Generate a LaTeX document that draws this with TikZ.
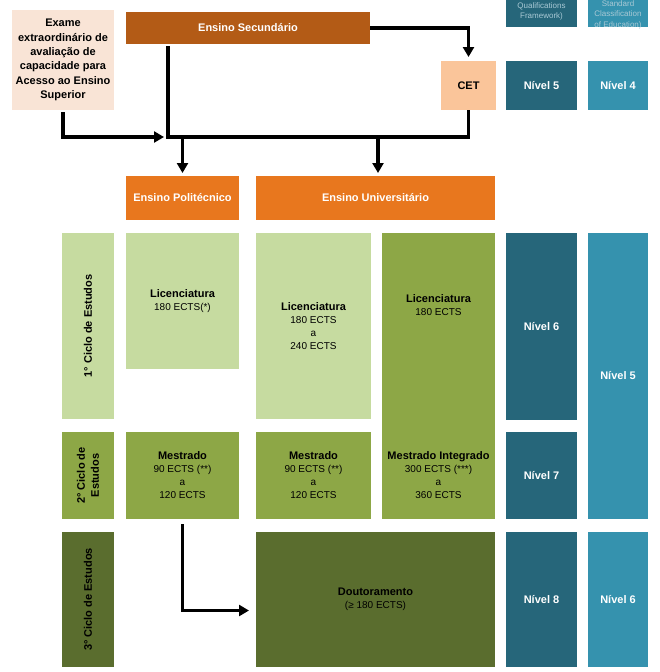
\documentclass[tikz,border=0pt]{standalone}
\usepackage{fontspec}
\setmainfont{Liberation Sans}
\usetikzlibrary{arrows.meta}
\definecolor{secbrown}{HTML}{B35B16}
\definecolor{ensorange}{HTML}{E8771E}
\definecolor{cetpeach}{HTML}{FAC59A}
\definecolor{exapeach}{HTML}{F9E4D6}
\definecolor{lgreen}{HTML}{C6DBA0}
\definecolor{mgreen}{HTML}{8DA746}
\definecolor{dgreen}{HTML}{5A6D2E}
\definecolor{dteal}{HTML}{26667A}
\definecolor{lteal}{HTML}{3592AE}
\definecolor{qtext}{HTML}{A9C9D5}
\newcommand\boxhead[1]{{\fontsize{11}{13}\selectfont\bfseries #1}}

\begin{document}
\begin{tikzpicture}[x=1pt, y=-1pt,
  box/.style={rectangle, inner sep=0pt, outer sep=0pt, align=center, font=\fontsize{10}{13}\selectfont},
  nivel/.style={box, text=white, font=\bfseries\fontsize{11}{13}\selectfont},
  ciclo/.style={rotate=90, align=center, inner sep=0pt, font=\bfseries\fontsize{11}{14}\selectfont},
  link/.style={line width=3.5pt, line join=miter},
  arr/.style={link, -{Triangle[length=10pt,width=11pt]}}]
\useasboundingbox (0,0) rectangle (659,672);
% access
\node[box, fill=exapeach, minimum width=102, minimum height=100, font=\bfseries\fontsize{11}{14.4}\selectfont] (exame) at (63,60) {Exame\\extraordinário de\\avaliação de\\capacidade para\\Acesso ao Ensino\\Superior};
\node[box, fill=secbrown, text=white, minimum width=244, minimum height=32] (sec) at (248,28) {\boxhead{Ensino Secundário}};
\node[box, fill=cetpeach, minimum width=55, minimum height=49] (cet) at (468.5,85.5) {\boxhead{CET}};
\node[box, fill=ensorange, text=white, minimum width=113, minimum height=44] (poli) at (182.5,198) {\boxhead{Ensino Politécnico}};
\node[box, fill=ensorange, text=white, minimum width=239, minimum height=44] (univ) at (375.5,198) {\boxhead{Ensino Universitário}};
% qualification levels
\node[box, fill=dteal, minimum width=71, minimum height=47] (qeqf) at (541.5,3.5) {};
\node[box, fill=lteal, minimum width=60, minimum height=47] (qisced) at (618,3.5) {};
\node[anchor=south, inner sep=0pt, align=center, text=qtext, font=\fontsize{8}{10}\selectfont] at (541.5,20) {Qualifications\\Framework)};
\node[anchor=south, inner sep=0pt, align=center, text=qtext, font=\fontsize{8}{10.5}\selectfont] at (618,29) {Standard\\Classification\\of Education)};
\node[nivel, fill=dteal, minimum width=71, minimum height=49] (n5a) at (541.5,85.5) {Nível 5};
\node[nivel, fill=lteal, minimum width=60, minimum height=49] (n4) at (618,85.5) {Nível 4};
\node[nivel, fill=dteal, minimum width=71, minimum height=187] (n6a) at (541.5,326.5) {Nível 6};
\node[nivel, fill=lteal, minimum width=60, minimum height=286] (n5b) at (618,376) {Nível 5};
\node[nivel, fill=dteal, minimum width=71, minimum height=87] (n7) at (541.5,475.5) {Nível 7};
\node[nivel, fill=dteal, minimum width=71, minimum height=135] (n8) at (541.5,599.5) {Nível 8};
\node[nivel, fill=lteal, minimum width=60, minimum height=135] (n6b) at (618,599.5) {Nível 6};
% cycles
\node[box, fill=lgreen, minimum width=52, minimum height=186] (c1) at (88,326) {};
\node[ciclo] at (c1) {1° Ciclo de Estudos};
\node[box, fill=mgreen, minimum width=52, minimum height=87] (c2) at (88,475.5) {};
\node[ciclo] at (c2) {2° Ciclo de\\Estudos};
\node[box, fill=dgreen, minimum width=52, minimum height=135] (c3) at (88,599.5) {};
\node[ciclo] at (c3) {3° Ciclo de Estudos};
% degrees
\node[box, fill=lgreen, minimum width=113, minimum height=136] (lic1) at (182.5,301) {\boxhead{Licenciatura}\\180 ECTS(*)};
\node[box, fill=lgreen, minimum width=115, minimum height=186] (lic2) at (313.5,326) {\boxhead{Licenciatura}\\180 ECTS\\a\\240 ECTS};
\node[box, fill=mgreen, minimum width=113, minimum height=286] (mint) at (438.5,376) {};
\node[box] (lic3) at (438.5,305) {\boxhead{Licenciatura}\\180 ECTS};
\node[box] (mint3) at (438.5,475) {\boxhead{Mestrado Integrado}\\300 ECTS (***)\\a\\360 ECTS};
\node[box, fill=mgreen, minimum width=113, minimum height=87] (mest1) at (182.5,475.5) {\boxhead{Mestrado}\\90 ECTS (**)\\a\\120 ECTS};
\node[box, fill=mgreen, minimum width=115, minimum height=87] (mest2) at (313.5,475.5) {\boxhead{Mestrado}\\90 ECTS (**)\\a\\120 ECTS};
\node[box, fill=dgreen, minimum width=239, minimum height=135] (dout) at (375.5,599.5) {\boxhead{Doutoramento}\\(≥ 180 ECTS)};
% connectors
\coordinate (j) at (168,137);
\draw[link] ([yshift=-2pt]j |- sec.south) -- (j) -- (j -| cet.south) -- (cet.south);
\draw[arr] (sec.east) -| ([yshift=4pt]cet.north);
\draw[arr] ([yshift=-2pt]exame.south) |- ([xshift=-4pt]j);
\draw[arr, shorten >=3pt] (poli.north |- j) -- (poli.north);
\draw[arr, shorten >=3pt] ([xshift=2.5pt]univ.north |- j) -- ([xshift=2.5pt]univ.north);
\draw[arr, shorten <=5pt, shorten >=7pt] (mest1.south) |- ([yshift=-11pt]dout.west);
\end{tikzpicture}
\end{document}
